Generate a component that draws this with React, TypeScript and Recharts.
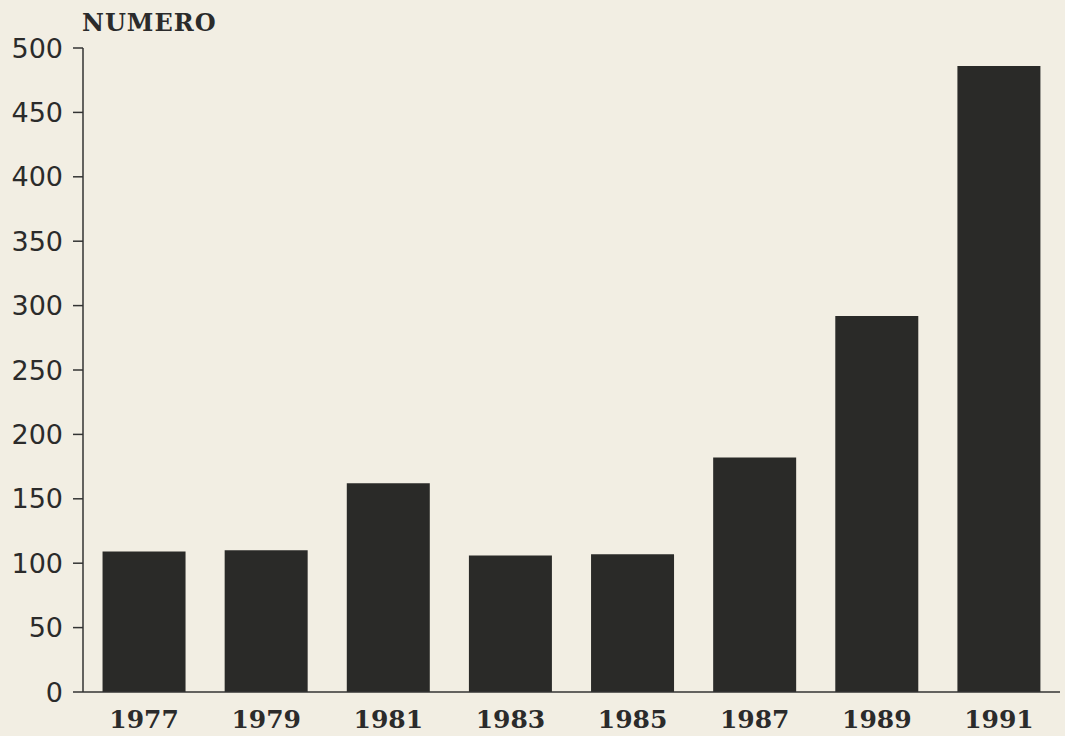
import React from 'react';
import { BarChart, Bar, XAxis, YAxis } from 'recharts';

const years = ['1977', '1979', '1981', '1983', '1985', '1987', '1989', '1991'];
const counts = [109, 110, 162, 106, 107, 182, 292, 486];
const yTicks = [0, 50, 100, 150, 200, 250, 300, 350, 400, 450, 500];

const data = years.map((y, i) => ({ year: y, value: counts[i] }));

export default function App() {
  return (
    <div style={{ position: 'absolute', left: 0, top: 0, width: 1065, height: 736, background: '#f2eee3' }}>
      <div style={{ position: 'absolute', left: 82, top: 9, fontFamily: '"DejaVu Serif", serif', fontSize: 24, fontWeight: 600, color: '#2b2b2b', letterSpacing: 1, lineHeight: '28px' }}>
        NUMERO
      </div>
      <BarChart width={1065} height={736} data={data} margin={{ top: 48, right: 5, bottom: 0, left: 0 }} barCategoryGap="16%">
        <XAxis
          dataKey="year"
          height={44}
          tickLine={false}
          axisLine={{ stroke: '#333', strokeWidth: 1.5 }}
          tick={{ fill: '#2b2b2b', fontSize: 25, fontWeight: 600, fontFamily: '"DejaVu Serif", serif' }}
          tickMargin={12}
        />
        <YAxis
          width={83}
          domain={[0, 500]}
          ticks={yTicks}
          interval={0}
          axisLine={{ stroke: '#333', strokeWidth: 1.5 }}
          tickLine={{ stroke: '#333', strokeWidth: 1.5 }}
          tickSize={10}
          tickMargin={10}
          tick={{ fill: '#2b2b2b', fontSize: 27, fontFamily: '"DejaVu Sans", sans-serif' }}
        />
        <Bar dataKey="value" fill="#2a2a28" isAnimationActive={false} />
      </BarChart>
    </div>
  );
}
